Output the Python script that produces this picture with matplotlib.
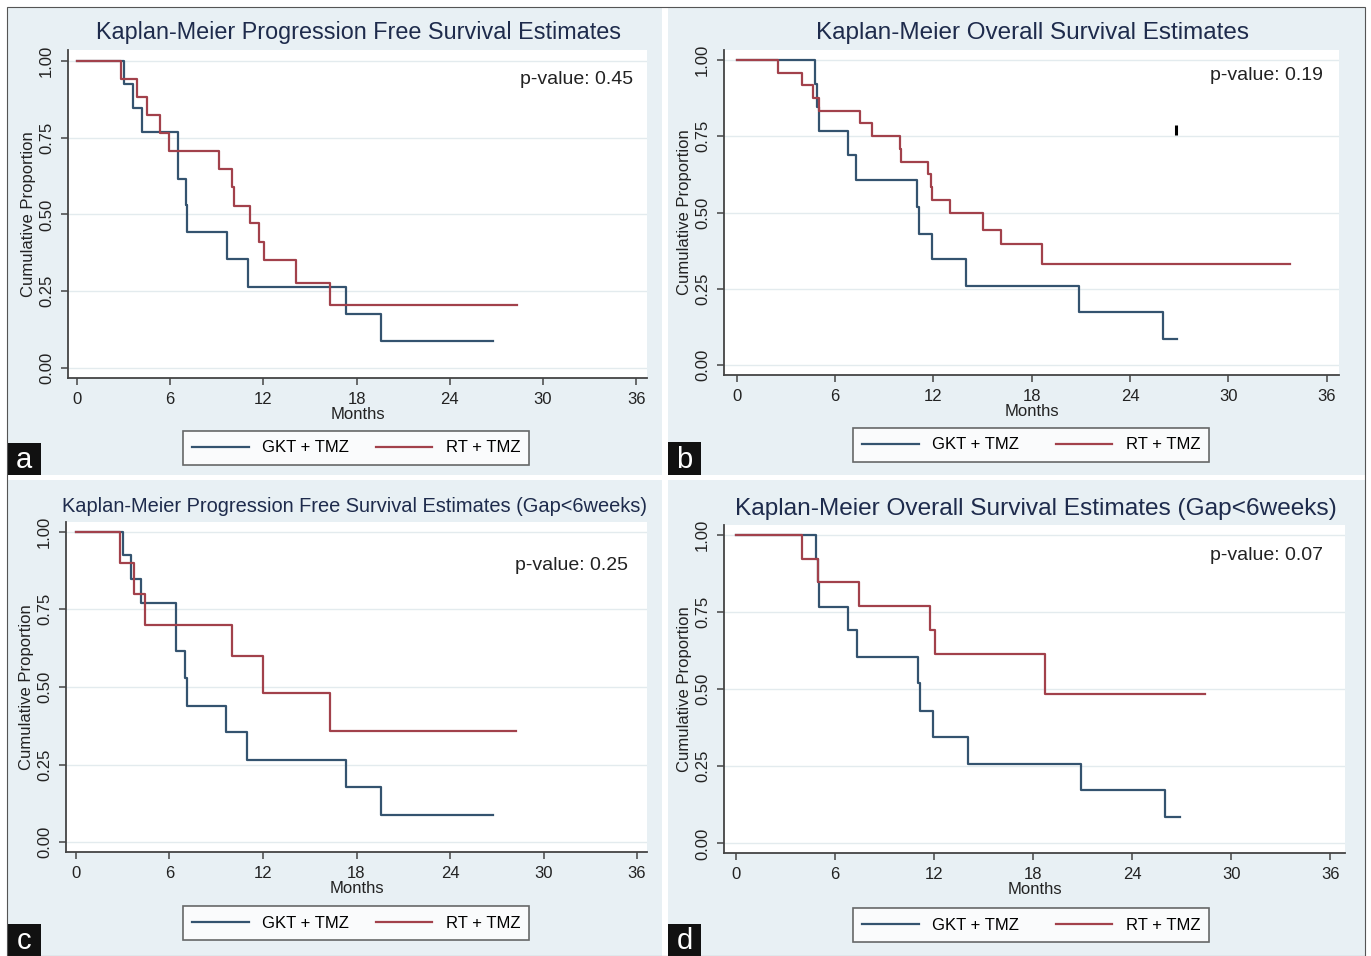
import matplotlib
matplotlib.use("Agg")
import matplotlib.pyplot as plt
from matplotlib.patches import Rectangle
from matplotlib.lines import Line2D

plt.rcParams['font.family'] = ['Liberation Sans', 'DejaVu Sans']

W, H = 1371, 956

# ---- data (months, survival) ----
a_gkt_t = [0, 3.0, 3.6, 4.2, 6.5, 7.0, 7.1, 9.65, 11.0, 17.3, 19.55, 26.8]
a_gkt_s = [1, 0.923, 0.846, 0.769, 0.615, 0.53, 0.442, 0.354, 0.265, 0.177, 0.088, 0.088]
a_rt_t = [0, 2.85, 3.85, 4.5, 5.35, 5.95, 9.15, 10.0, 10.1, 11.15, 11.7, 12.05, 14.1, 16.3, 28.3]
a_rt_s = [1, 0.941, 0.882, 0.824, 0.765, 0.706, 0.647, 0.588, 0.529, 0.471, 0.412, 0.353, 0.276, 0.206, 0.206]

b_gkt_t = [0, 4.8, 4.9, 5.0, 6.8, 7.3, 11.0, 11.1, 11.9, 14.0, 20.9, 26.0, 26.85]
b_gkt_s = [1, 0.923, 0.846, 0.768, 0.69, 0.605, 0.518, 0.431, 0.346, 0.258, 0.175, 0.085, 0.085]
b_rt_t = [0, 2.5, 4.0, 4.65, 5.0, 7.5, 8.25, 9.95, 10.05, 11.7, 11.85, 11.95, 13.0, 15.05, 16.15, 18.65, 33.75]
b_rt_s = [1, 0.958, 0.917, 0.875, 0.833, 0.792, 0.75, 0.708, 0.667, 0.625, 0.583, 0.542, 0.5, 0.444, 0.396, 0.331, 0.331]
b_stray = (26.8, 0.77)

c_gkt_t = [0, 3.0, 3.55, 4.15, 6.45, 7.0, 7.1, 9.6, 10.95, 17.3, 19.55, 26.75]
c_gkt_s = [1, 0.925, 0.847, 0.771, 0.616, 0.53, 0.44, 0.354, 0.265, 0.177, 0.089, 0.089]
c_rt_t = [0, 2.8, 3.7, 4.45, 10.0, 12.0, 16.3, 28.25]
c_rt_s = [1, 0.9, 0.8, 0.7, 0.6, 0.48, 0.36, 0.36]

d_gkt_t = [0, 4.85, 4.95, 5.0, 6.8, 7.35, 11.0, 11.15, 11.95, 14.05, 20.9, 26.0, 26.9]
d_gkt_s = [1, 0.923, 0.846, 0.767, 0.692, 0.605, 0.519, 0.43, 0.346, 0.258, 0.173, 0.086, 0.086]
d_rt_t = [0, 4.0, 4.95, 7.45, 11.75, 12.05, 18.7, 28.4]
d_rt_s = [1, 0.923, 0.846, 0.769, 0.692, 0.615, 0.484, 0.484]

titles = ["Kaplan-Meier Progression Free Survival Estimates",
          "Kaplan-Meier Overall Survival Estimates",
          "Kaplan-Meier Progression Free Survival Estimates (Gap<6weeks)",
          "Kaplan-Meier Overall Survival Estimates (Gap<6weeks)"]
pvalues = ["p-value: 0.45", "p-value: 0.19", "p-value: 0.25", "p-value: 0.07"]
letters = ["a", "b", "c", "d"]
series = [(a_gkt_t, a_gkt_s, a_rt_t, a_rt_s),
          (b_gkt_t, b_gkt_s, b_rt_t, b_rt_s),
          (c_gkt_t, c_gkt_s, c_rt_t, c_rt_s),
          (d_gkt_t, d_gkt_s, d_rt_t, d_rt_s)]
xticks = [0, 6, 12, 18, 24, 30, 36]
yticks = [0, 0.25, 0.5, 0.75, 1.0]

GKT_COL = "#34536f"
RT_COL = "#a2414b"
BG = "#e8f0f4"
TITLE_COL = "#1e2b4c"


def fx(x):
    return x / W


def fy(y):
    return 1 - y / H


def frect(x0, y0, x1, y1, **kw):
    r = Rectangle((fx(x0), fy(y1)), (x1 - x0) / W, (y1 - y0) / H,
                  transform=fig.transFigure, **kw)
    fig.add_artist(r)


fig = plt.figure(figsize=(W / 100, H / 100), dpi=100)
fig.patch.set_facecolor("white")

# panel regions (pixels)
panels = [(7, 7, 662, 475), (668, 7, 1365, 475), (7, 480, 662, 956), (668, 480, 1365, 956)]
axes_px = [(68, 50, 647, 378), (724, 50, 1339, 375), (66, 522, 647, 852), (724, 525, 1345, 853)]
xlims = [(-0.58, 36.7), (-0.77, 36.75), (-0.64, 36.64), (-0.73, 36.9)]
ylims = [(-0.032, 1.035), (-0.033, 1.033), (-0.031, 1.031), (-0.031, 1.032)]
title_pos = [(358, 33, 16.8), (1032, 33, 17.5), (355, 507, 14.4), (1036, 509, 17.6)]
p_pos = [(633, 80), (1323, 76), (628, 565), (1323, 555)]
leg_pos = [(356, 448), (1031, 445), (356, 923), (1031, 925)]
leg_colsp = [1.6, 2.2, 1.6, 2.2]
letter_box = [(7, 443, 41, 475), (668, 442, 701, 475), (7, 924, 41, 956), (668, 924, 701, 956)]

for (x0, y0, x1, y1) in panels:
    frect(x0, y0, x1, y1, facecolor=BG, edgecolor="none", zorder=0)

for i in range(4):
    l, t, r, b = axes_px[i]
    ax = fig.add_axes([fx(l), fy(b), (r - l) / W, (b - t) / H])
    ax.set_facecolor("white")
    gt, gs, rt, rs = series[i]
    for y in yticks:
        ax.axhline(y, color="#e3ebee", lw=1.0, zorder=1)
    ax.step(gt, gs, where="post", color=GKT_COL, lw=1.6, zorder=3)
    ax.step(rt, rs, where="post", color=RT_COL, lw=1.6, zorder=3)
    if i == 1:
        ax.plot([b_stray[0]], [b_stray[1]], marker="|", ms=7, mew=2.2, color="black", ls="none")
    ax.set_xlim(*xlims[i])
    ax.set_ylim(*ylims[i])
    ax.set_xticks(xticks)
    ax.set_yticks(yticks)
    ax.set_yticklabels(["%.2f" % v for v in yticks], rotation=90, va="center")
    for s in ["top", "right"]:
        ax.spines[s].set_visible(False)
    for s in ["left", "bottom"]:
        ax.spines[s].set_color("#444444")
        ax.spines[s].set_linewidth(1.3)
    ax.tick_params(axis="both", direction="out", length=5, width=1.1, color="#444444",
                   labelsize=12, labelcolor="#222222")
    ax.tick_params(axis="x", pad=5)
    ax.tick_params(axis="y", pad=5)
    ax.set_xlabel("Months", fontsize=12, color="#222222", labelpad=0)
    ax.set_ylabel("Cumulative Proportion", fontsize=12, color="#222222", labelpad=2)

    tx, ty, tsz = title_pos[i]
    fig.text(fx(tx), fy(ty), titles[i], ha="center", va="center", fontsize=tsz, color=TITLE_COL)
    px_, py_ = p_pos[i]
    fig.text(fx(px_), fy(py_), pvalues[i], ha="right", va="center", fontsize=14, color="#222222")

    handles = [Line2D([], [], color=GKT_COL, lw=1.6), Line2D([], [], color=RT_COL, lw=1.6)]
    lx, ly = leg_pos[i]
    leg = fig.legend(handles, ["GKT + TMZ", "RT + TMZ"], loc="center",
                     bbox_to_anchor=(fx(lx), fy(ly)), ncol=2, fontsize=12,
                     frameon=True, fancybox=False, edgecolor="#444444",
                     handlelength=3.4, handletextpad=0.8, columnspacing=leg_colsp[i],
                     borderpad=0.55)
    leg.get_frame().set_linewidth(1.2)

    bx0, by0, bx1, by1 = letter_box[i]
    frect(bx0, by0, bx1, by1, facecolor="#111111", edgecolor="none", zorder=5)
    fig.text(fx((bx0 + bx1) / 2), fy((by0 + by1) / 2 + 1), letters[i], ha="center", va="center",
             fontsize=21, color="white", zorder=6)

# thin outer frame
frect(7, 7, 1365, 956, facecolor="none", edgecolor="#555555", lw=0.8, zorder=7)

fig.savefig("out.png", dpi=100)
